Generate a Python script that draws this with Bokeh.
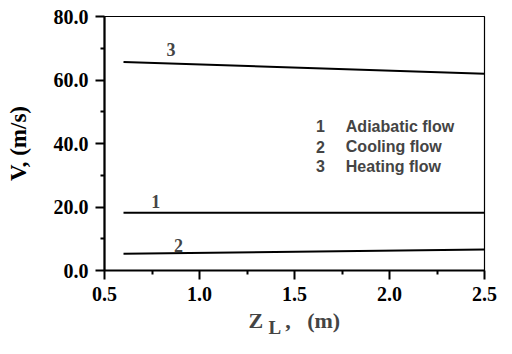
from bokeh.plotting import figure
from bokeh.models import Label, FixedTicker, Range1d, PrintfTickFormatter
from bokeh.embed import file_html
from bokeh.resources import INLINE

# ---- data ----
zl = [0.6, 2.5]
v_adiabatic = [18.2, 18.2]
v_cooling = [5.3, 6.6]
v_heating = [65.7, 62.0]

x_ticks = [0.5, 1.0, 1.5, 2.0, 2.5]
x_minor = [0.75, 1.25, 1.75, 2.25]
y_ticks = [0, 20, 40, 60, 80]
y_minor = [10, 30, 50, 70]

curve_ids = ["1", "2", "3"]
curve_label_x = [0.77, 0.89, 0.85]
curve_label_y = [21.8, 8.0, 69.6]

legend_nums = ["1", "2", "3"]
legend_texts = ["Adiabatic flow", "Cooling flow", "Heating flow"]
legend_y = [45.4, 38.9, 32.8]

serif = "Liberation Serif"
sans = "Liberation Sans"
NB = "\u00a0"

p = figure(width=496, height=338, output_backend="svg", toolbar_location=None,
           x_range=Range1d(0.5, 2.5), y_range=Range1d(0, 80),
           min_border_left=104, min_border_right=12, min_border_top=16, min_border_bottom=68)
p.frame_width = 380
p.frame_height = 254
p.grid.visible = False
p.background_fill_color = "white"
p.border_fill_color = "white"
p.outline_line_color = "black"
p.outline_line_width = 1.2

for ax in (p.xaxis[0], p.yaxis[0]):
    ax.axis_line_width = 2.2
    ax.axis_line_color = "black"
    ax.major_tick_line_width = 2
    ax.minor_tick_line_width = 2
    ax.major_tick_out = 9
    ax.major_tick_in = 0
    ax.minor_tick_out = 4
    ax.minor_tick_in = 0
    ax.major_label_text_font = serif
    ax.major_label_text_font_style = "bold"
    ax.major_label_text_font_size = "20px"
    ax.major_label_text_color = "black"
    ax.major_label_standoff = 7

p.xaxis[0].ticker = FixedTicker(ticks=x_ticks, minor_ticks=x_minor)
p.yaxis[0].ticker = FixedTicker(ticks=y_ticks, minor_ticks=y_minor)
p.xaxis[0].formatter = PrintfTickFormatter(format="%.1f")
p.yaxis[0].formatter = PrintfTickFormatter(format="%.1f")

yax = p.yaxis[0]
yax.axis_label = "V, (m/s)"
yax.axis_label_text_font = serif
yax.axis_label_text_font_style = "bold"
yax.axis_label_text_font_size = "23px"
yax.axis_label_text_color = "black"
yax.axis_label_standoff = 20

for vals in (v_adiabatic, v_cooling, v_heating):
    p.line(zl, vals, line_color="black", line_width=2)

for t, xx, yy in zip(curve_ids, curve_label_x, curve_label_y):
    p.add_layout(Label(x=xx, y=yy, text=t, text_font=serif, text_font_style="bold",
                       text_font_size="18px", text_align="center", text_baseline="middle"))

for n, t, yy in zip(legend_nums, legend_texts, legend_y):
    p.add_layout(Label(x=1.636, y=yy, text=n, text_font=sans, text_font_style="bold",
                       text_font_size="16px", text_align="center", text_baseline="middle"))
    p.add_layout(Label(x=1.77, y=yy, text=t, text_font=sans, text_font_style="bold",
                       text_font_size="16px", text_align="left", text_baseline="middle"))

# x axis title: main part in the panel below, subscript in the (narrow) right panel
p.add_layout(Label(x=1.258, y=-15.8, text="Z" + NB * 4 + "," + NB * 3 + "(m)",
                   text_font=serif, text_font_style="bold", text_font_size="22px",
                   text_align="left", text_baseline="alphabetic"), "below")
p.add_layout(Label(x=1.363, y=-18.0, text="L",
                   text_font=serif, text_font_style="bold", text_font_size="19px",
                   text_align="left", text_baseline="alphabetic"), "right")

open("out.html", "w").write(file_html(p, INLINE))
